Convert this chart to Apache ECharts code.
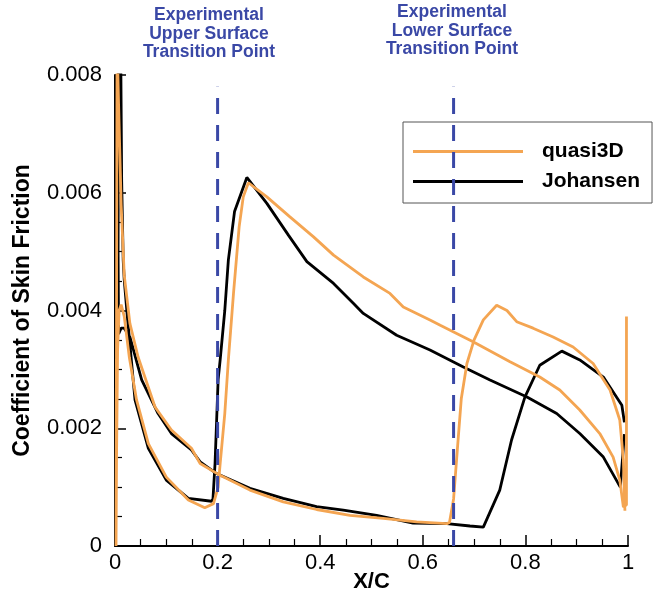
<!DOCTYPE html>
<html>
<head>
<meta charset="utf-8">
<script src="https://cdn.jsdelivr.net/npm/echarts@6/dist/echarts.min.js"></script>
<style>
html,body{margin:0;padding:0;background:#fff;}
#chart{width:657px;height:592px;}
</style>
</head>
<body>
<div id="chart"></div>
<script>
// quasi3D: upper surface from trailing edge to leading edge, then lower surface back to trailing edge
const quasi3DX = [0.997,0.997,0.991,0.984,0.971,0.945,0.906,0.867,0.828,0.770,0.698,0.634,0.614,0.562,0.536,0.484,0.426,0.387,0.341,0.296,0.260,0.250,0.242,0.231,0.221,0.214,0.205,0.201,0.192,0.175,0.143,0.100,0.065,0.042,0.028,0.018,0.012,0.008,0.005,0.003,0.002,0.003,0.004,0.007,0.012,0.018,0.029,0.045,0.078,0.110,0.149,0.166,0.205,0.263,0.328,0.393,0.458,0.523,0.588,0.647,0.652,0.660,0.667,0.675,0.686,0.700,0.718,0.744,0.764,0.783,0.815,0.854,0.893,0.932,0.965,0.984,0.991,0.994];
const quasi3DY = [0.0039,0.0007,0.00066,0.00112,0.00151,0.00191,0.00231,0.00265,0.00287,0.00313,0.00347,0.00375,0.00384,0.00406,0.00429,0.00457,0.00494,0.00525,0.00559,0.00593,0.00617,0.00593,0.00542,0.00429,0.00316,0.00225,0.0014,0.0010,0.00072,0.00065,0.00078,0.00117,0.00174,0.00248,0.0032,0.0039,0.0041,0.0040,0.0033,0.0015,0.0,0.0040,0.0086,0.0075,0.0058,0.0046,0.00378,0.00321,0.00236,0.00197,0.00166,0.0014,0.0012,0.00095,0.00075,0.00062,0.00052,0.00047,0.00041,0.00038,0.0004,0.0008,0.0016,0.0025,0.0031,0.0035,0.00384,0.00409,0.0040,0.00381,0.0037,0.00355,0.00338,0.0031,0.00265,0.00214,0.00146,0.0006];

// Johansen: upper surface from trailing edge to leading edge, then lower surface back to trailing edge
const johansenX = [0.993,0.985,0.952,0.906,0.861,0.803,0.731,0.679,0.614,0.549,0.484,0.465,0.426,0.374,0.338,0.296,0.257,0.233,0.221,0.214,0.205,0.201,0.195,0.191,0.188,0.143,0.100,0.065,0.039,0.023,0.018,0.016,0.013,0.011,0.007,0.006,0.007,0.012,0.018,0.029,0.052,0.084,0.110,0.149,0.166,0.198,0.263,0.328,0.393,0.445,0.510,0.581,0.647,0.692,0.718,0.750,0.773,0.799,0.828,0.871,0.906,0.952,0.988,0.993];
const johansenY = [0.0019,0.0010,0.00151,0.00191,0.00225,0.00253,0.00282,0.00304,0.00333,0.00358,0.00395,0.00412,0.00446,0.00483,0.00528,0.00582,0.00626,0.00568,0.00486,0.0040,0.00316,0.00282,0.0014,0.00080,0.00076,0.00081,0.00112,0.00166,0.00248,0.0040,0.00452,0.00485,0.0062,0.0086,0.0086,0.0050,0.0036,0.0037,0.0037,0.00355,0.00282,0.00225,0.00191,0.00163,0.00143,0.00123,0.00098,0.00081,0.00067,0.00061,0.00052,0.00039,0.00038,0.00034,0.00032,0.00095,0.0018,0.00253,0.00307,0.00331,0.00316,0.00287,0.00239,0.0021];

// experimental transition points
const transitionX = [0.2, 0.66];
const transitionTop = 0.0078;
const transitionLabels = ['Experimental\nUpper Surface\nTransition Point', 'Experimental\nLower Surface\nTransition Point'];

const xTicks = [0, 0.2, 0.4, 0.6, 0.8, 1];
const yTicks = [0, 0.002, 0.004, 0.006, 0.008];

const zip = (xs, ys) => xs.map((x, i) => [x, ys[i]]);

const chart = echarts.init(document.getElementById('chart'), null, {renderer: 'canvas'});
const FONT = 'Liberation Sans, Arial, Helvetica, sans-serif';
const BLUE = '#3a48a6';
const ORANGE = '#f4a552';

const series = [
  {name: 'Johansen', type: 'line', data: zip(johansenX, johansenY), showSymbol: false, symbol: 'none',
   lineStyle: {color: '#000', width: 2.8}, itemStyle: {color: '#000'}, clip: true, z: 2},
  {name: 'quasi3D', type: 'line', data: zip(quasi3DX, quasi3DY), showSymbol: false, symbol: 'none',
   lineStyle: {color: ORANGE, width: 2.8}, itemStyle: {color: ORANGE}, clip: true, z: 3}
];
transitionX.forEach((x, i) => {
  series.push({name: 'tr' + i, type: 'line', data: [[x, 0], [x, transitionTop]], showSymbol: false, symbol: 'none',
    lineStyle: {color: BLUE, width: 3, type: [16, 11]}, z: 4, silent: true});
});

const option = {
  animation: false,
  backgroundColor: '#fff',
  grid: {left: 115, right: 29, top: 75, bottom: 46, containLabel: false, outerBoundsMode: 'none'},
  xAxis: {
    type: 'value', min: 0, max: 1, interval: 0.2,
    name: 'X/C', nameLocation: 'middle', nameGap: 25, nameMoveOverlap: false,
    nameTextStyle: {fontFamily: FONT, fontWeight: 'bold', fontSize: 22, color: '#000', verticalAlign: 'top'},
    axisLine: {show: true, onZero: false, lineStyle: {color: '#000', width: 2}},
    axisTick: {show: true, inside: true, length: 11, lineStyle: {color: '#000', width: 1.5}},
    minorTick: {show: true, splitNumber: 4, length: 7, lineStyle: {color: '#000', width: 1.2}},
    splitLine: {show: false},
    axisLabel: {fontFamily: FONT, fontSize: 22, color: '#000', margin: 6,
      formatter: v => { const t = xTicks.find(k => Math.abs(k - v) < 1e-9); return t === undefined ? '' : String(t); }}
  },
  yAxis: {
    type: 'value', min: 0, max: 0.008, interval: 0.002,
    name: 'Coefficient of Skin Friction', nameLocation: 'middle', nameGap: 81, nameMoveOverlap: false,
    nameTextStyle: {fontFamily: FONT, fontWeight: 'bold', fontSize: 23, color: '#000'},
    axisLine: {show: true, onZero: false, lineStyle: {color: '#000', width: 2}},
    axisTick: {show: true, inside: true, length: 11, lineStyle: {color: '#000', width: 1.5}},
    minorTick: {show: true, splitNumber: 4, length: 7, lineStyle: {color: '#000', width: 1.2}},
    splitLine: {show: false},
    axisLabel: {fontFamily: FONT, fontSize: 22, color: '#000', margin: 13,
      formatter: v => { const t = yTicks.find(k => Math.abs(k - v) < 1e-12); return t === undefined ? '' : (t === 0 ? '0' : t.toFixed(3)); }}
  },
  legend: {
    data: ['quasi3D', 'Johansen'],
    orient: 'vertical', left: 403, top: 122,
    icon: 'rect', itemWidth: 110, itemHeight: 3, itemGap: 9,
    padding: [19, 12, 11, 10],
    backgroundColor: '#fff', borderColor: '#555', borderWidth: 1, borderRadius: 0,
    textStyle: {fontFamily: FONT, fontWeight: 'bold', fontSize: 21, color: '#000', lineHeight: 20, padding: [0, 0, 0, 14]},
    selectedMode: false
  },
  graphic: [
    {type: 'text', x: 209, y: 6, style: {text: transitionLabels[0], fill: BLUE, font: 'bold 17.5px ' + FONT, textAlign: 'center', lineHeight: 18.5}},
    {type: 'text', x: 452, y: 3, style: {text: transitionLabels[1], fill: BLUE, font: 'bold 17.5px ' + FONT, textAlign: 'center', lineHeight: 18.5}}
  ],
  series: series
};
chart.setOption(option);
</script>
</body>
</html>
